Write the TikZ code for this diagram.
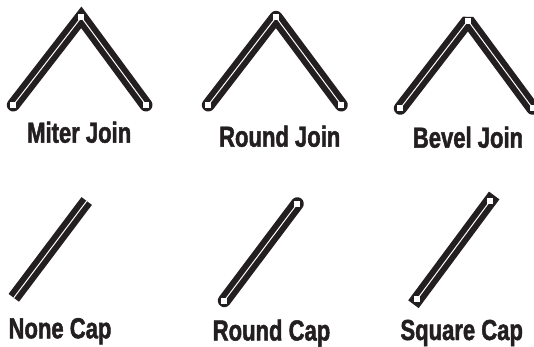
\documentclass[tikz,border=0pt]{standalone}
\usepackage{fontspec}
\setmainfont[BoldFeatures={FakeStretch=0.76,FakeBold=1.6}]{Liberation Sans}
\usepackage{xcolor}
\definecolor{inkblack}{RGB}{35,31,32}

\begin{document}
\begin{tikzpicture}[x=1pt,y=-1pt,
  wire/.style={inkblack,line width=13pt},
  core/.style={white,line width=1pt},
  handle/.style={fill=white,inner sep=0pt,minimum size=6pt},
  caption/.style={anchor=base,inkblack,inner sep=0pt,font=\fontsize{29}{31}\selectfont\bfseries}]
\useasboundingbox (0,0) rectangle (534,347);
% joins
\coordinate (m1) at (13.3,105); \coordinate (m2) at (81.3,17.3); \coordinate (m3) at (146,105);
\coordinate (r1) at (208.3,105); \coordinate (r2) at (276,17.3); \coordinate (r3) at (341.3,105);
\coordinate (b1) at (400.3,108.3); \coordinate (b2) at (468,20.7); \coordinate (b3) at (532.7,108.3);
\draw[wire,line join=miter,line cap=round,miter limit=10] (m1)--(m2)--(m3);
\draw[core] (m1) node[handle] (mh1) {}--(m2) node[handle] (mh2) {}--(m3) node[handle] (mh3) {};
\draw[wire,line join=round,line cap=round] (r1)--(r2)--(r3);
\draw[core] (r1) node[handle] (rh1) {}--(r2) node[handle] (rh2) {}--(r3) node[handle] (rh3) {};
\draw[wire,line join=bevel,line cap=round] (b1)--(b2)--(b3);
\draw[core] (b1) node[handle] (bh1) {}--(b2) node[handle] (bh2) {}--(b3) node[handle] (bh3) {};
\node[caption] (mitertext) at (79.2,142.7) {Miter Join};
\node[caption] (roundtext) at (279.7,146.7) {Round Join};
\node[caption] (beveltext) at (468,147.7) {Bevel Join};
% caps
\coordinate (n1) at (13.8,297.8); \coordinate (n2) at (86.7,201);
\coordinate (c1) at (224.3,300.7); \coordinate (c2) at (297.3,203.7);
\coordinate (s1) at (417.3,299); \coordinate (s2) at (490.3,200.7);
\draw[wire,line cap=butt] (n1)--(n2);
\draw[core] (n1)--(n2);
\draw[wire,line cap=round] (c1)--(c2);
\draw[core] (c1) node[handle] (ch1) {}--(c2) node[handle] (ch2) {};
\draw[wire,line cap=rect] (s1)--(s2);
\draw[core] (s1) node[handle] (sh1) {}--(s2) node[handle] (sh2) {};
\node[caption] (nonetext) at (60,338.3) {None Cap};
\node[caption] (captext) at (271.5,340.5) {Round Cap};
\node[caption] (squaretext) at (461.7,340) {Square Cap};
\end{tikzpicture}
\end{document}
